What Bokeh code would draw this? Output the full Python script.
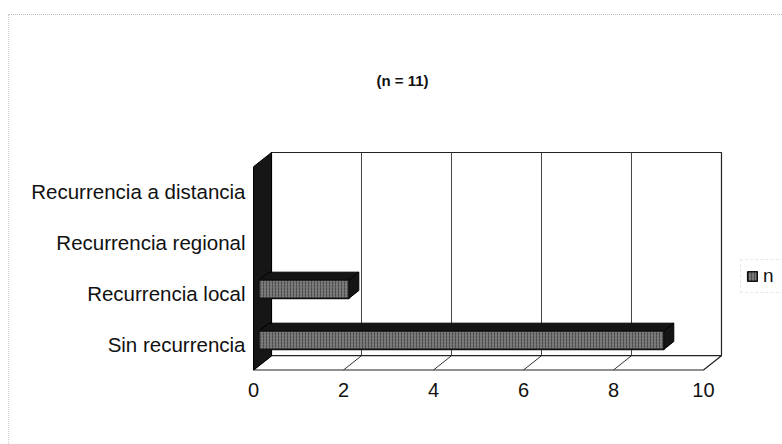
from bokeh.plotting import figure
from bokeh.models import Range1d, FixedTicker, Label, Legend, LegendItem, ColumnDataSource, InlineStyleSheet
from bokeh.embed import file_html
from bokeh.resources import INLINE

# Data
categories = ["Sin recurrencia", "Recurrencia local", "Recurrencia regional", "Recurrencia a distancia"]
counts = [9, 2, 0, 0]
x_ticks = [0, 2, 4, 6, 8, 10]
title_text = "(n = 11)"
series_name = "n"

# 3-D look: depth offset of the back wall (in data units) and bar depth span
X_MAX = 10
DX, DY = 0.4, 0.28
BAR_H = 0.36
D0, D1 = 0.3, 0.85
Y_BOTTOM, Y_TOP = -0.5, 3.765

FONT = "Liberation Sans"

# The plot area spans the canvas to the top and right edges so that the
# title and legend can sit inside it; the walls only fill part of it.
p = figure(width=782, height=444,
           x_range=Range1d(-0.0667, 11.756), y_range=Range1d(-0.549, 6.745),
           output_backend="svg", toolbar_location=None,
           min_border_left=250, min_border_right=0,
           min_border_top=0, min_border_bottom=72)
p.grid.visible = False
p.outline_line_color = None
p.background_fill_color = "white"
p.border_fill_color = "white"

# Faint frame around the whole chart area
p.stylesheets = [InlineStyleSheet(css="""
:host::after {
  content: ""; position: absolute; left: 8px; top: 14px; right: 0; bottom: 0;
  border-top: 1px dotted #bdbdbd; border-left: 1px dotted #cfcfcf; pointer-events: none;
}
""")]

# Back wall with vertical gridlines
p.quad(left=[DX], right=[X_MAX + DX], bottom=[Y_BOTTOM + DY], top=[Y_TOP],
       fill_color="white", line_color="#222222", line_width=1.2)
grid_x = [t + DX for t in x_ticks[1:-1]]
p.segment(x0=grid_x, y0=[Y_BOTTOM + DY] * len(grid_x), x1=grid_x, y1=[Y_TOP] * len(grid_x),
          line_color="#444444", line_width=1)

# Floor
p.patch(x=[0, X_MAX, X_MAX + DX, DX], y=[Y_BOTTOM, Y_BOTTOM, Y_BOTTOM + DY, Y_BOTTOM + DY],
        fill_color="white", line_color="#222222", line_width=1.2)
floor_x = x_ticks[1:-1]
p.segment(x0=floor_x, y0=[Y_BOTTOM] * len(floor_x),
          x1=[t + DX for t in floor_x], y1=[Y_BOTTOM + DY] * len(floor_x),
          line_color="#333333", line_width=1)

# Left wall (dark)
p.patch(x=[0, 0, DX, DX], y=[Y_BOTTOM, Y_TOP - DY, Y_TOP, Y_BOTTOM + DY],
        fill_color="#161616", line_color="#000000", line_width=1)

# Bars: front face, top face, right face
front = dict(left=[], right=[], bottom=[], top=[])
top_xs, top_ys, side_xs, side_ys = [], [], [], []
ddx, ddy = (D1 - D0) * DX, (D1 - D0) * DY
for i, v in enumerate(counts):
    if v <= 0:
        continue
    l = D0 * DX
    r = v + D0 * DX
    b = i - BAR_H / 2 + D0 * DY
    t = i + BAR_H / 2 + D0 * DY
    front["left"].append(l); front["right"].append(r)
    front["bottom"].append(b); front["top"].append(t)
    top_xs.append([l, r, r + ddx, l + ddx]); top_ys.append([t, t, t + ddy, t + ddy])
    side_xs.append([r, r + ddx, r + ddx, r]); side_ys.append([b, b + ddy, t + ddy, t])

p.patches(xs=top_xs, ys=top_ys, fill_color="#151515", line_color="#000000", line_width=1)
p.patches(xs=side_xs, ys=side_ys, fill_color="#151515", line_color="#000000", line_width=1)
bars = p.quad(source=ColumnDataSource(front), left="left", right="right", bottom="bottom", top="top",
              fill_color="#787878", line_color="#111111", line_width=1.6,
              hatch_pattern=":", hatch_color="#2a2a2a", hatch_scale=3, hatch_alpha=0.6)

# Axes
xa = p.xaxis[0]
xa.ticker = FixedTicker(ticks=x_ticks)
xa.axis_line_color = None
xa.major_tick_line_color = None
xa.minor_tick_line_color = None
xa.major_tick_out = 0
xa.major_label_standoff = 10
xa.major_label_text_font = FONT
xa.major_label_text_font_size = "20px"
xa.major_label_text_color = "#111111"

ya = p.yaxis[0]
ya.ticker = FixedTicker(ticks=list(range(len(categories))))
ya.major_label_overrides = {i: c for i, c in enumerate(categories)}
ya.axis_line_color = None
ya.major_tick_line_color = None
ya.minor_tick_line_color = None
ya.major_tick_out = 0
ya.major_label_standoff = 5
ya.major_label_text_font = FONT
ya.major_label_text_font_size = "20.5px"
ya.major_label_text_color = "#111111"

# Title
p.add_layout(Label(x=3.31, y=5.17, text=title_text, text_align="center", text_baseline="middle",
                   text_font=FONT, text_font_size="15px", text_font_style="bold",
                   text_color="#111111"))

# Legend to the right of the walls
legend = Legend(items=[LegendItem(label=series_name, renderers=[bars])],
                location=(490, 79), orientation="vertical",
                glyph_width=12, glyph_height=12, label_height=12, label_standoff=5,
                padding=5, margin=0, spacing=0,
                label_text_font=FONT, label_text_font_size="19px", label_text_color="#111111",
                border_line_color="#cfcfcf", border_line_dash="2 2", border_line_width=1,
                background_fill_color="white")
p.add_layout(legend, "center")

open("out.html", "w").write(file_html(p, INLINE))
